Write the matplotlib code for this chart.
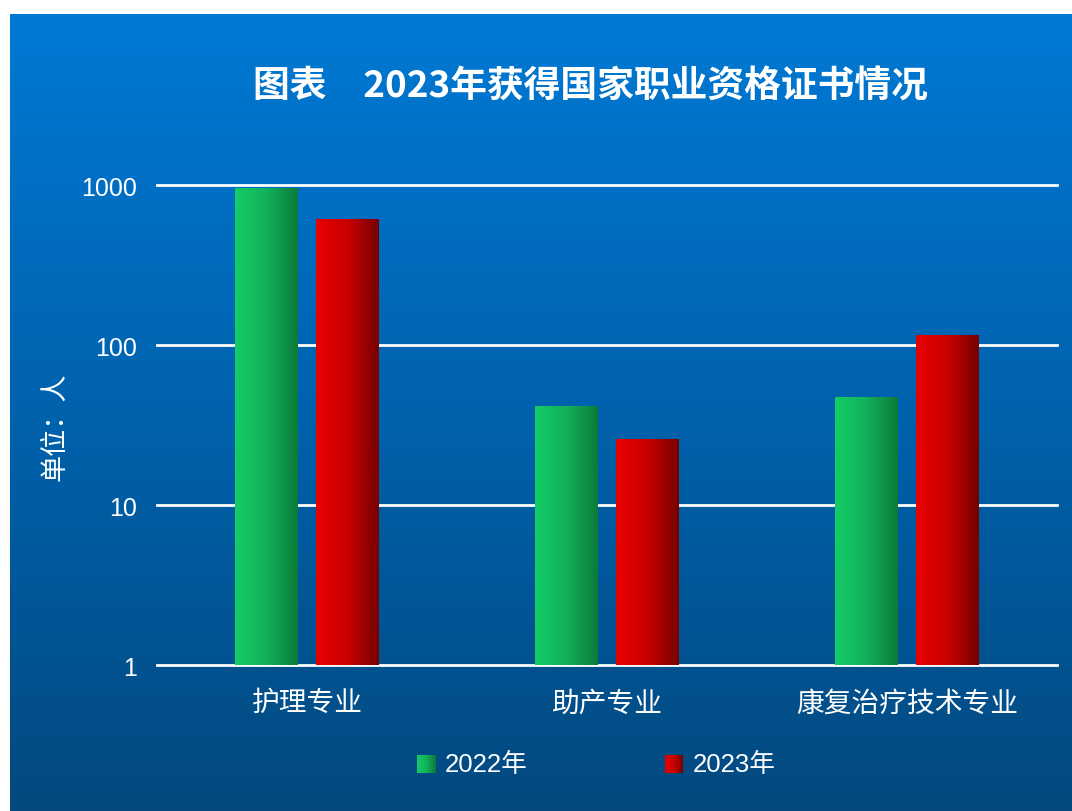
import numpy as np
import matplotlib
matplotlib.use("Agg")
import matplotlib.pyplot as plt
from matplotlib.colors import LinearSegmentedColormap

plt.rcParams['font.family'] = ['Liberation Sans', 'Noto Sans CJK SC', 'DejaVu Sans']

# data
categories = ['护理专业', '助产专业', '康复治疗技术专业']
series = ['2022年', '2023年']
values_2022 = [958, 41, 47]
values_2023 = [613, 25, 115]
yticks = [1, 10, 100, 1000]
title = '图表　2023年获得国家职业资格证书情况'
ylabel = '单位：人'

green_cmap = LinearSegmentedColormap.from_list('g', ['#14cc66', '#12b05a', '#0b7a3a'])
red_cmap = LinearSegmentedColormap.from_list('r', ['#e80000', '#c80000', '#760000'])
bg_cmap = LinearSegmentedColormap.from_list('bg', ['#0079d4', '#0062ad', '#03497f'])

W, H = 1072, 812
fig = plt.figure(figsize=(W / 100, H / 100), dpi=100)
fig.patch.set_facecolor('white')

# blue gradient panel
bg = fig.add_axes([10 / W, 0, 1 - 10 / W, 1 - 15 / H], zorder=0)
bg.imshow(np.linspace(0, 1, 256).reshape(-1, 1), aspect='auto', cmap=bg_cmap,
          extent=(0, 1, 0, 1), origin='upper')
bg.set_axis_off()

ax = fig.add_axes([157 / W, 1 - 666 / H, 900 / W, 480 / H], zorder=1)
ax.patch.set_alpha(0)
ax.set_yscale('log')
ax.set_ylim(1, 1000)
ax.set_xlim(-0.5, 2.5)

grad = np.linspace(0, 1, 128).reshape(1, -1)
x = np.arange(len(categories))
width = 0.21
offset = 0.135
for vals, cm, dx in [(values_2022, green_cmap, -offset), (values_2023, red_cmap, offset)]:
    bars = ax.bar(x + dx, vals, width, bottom=1, color='none', zorder=2)
    for b in bars:
        x0 = b.get_x()
        im = ax.imshow(grad, aspect='auto', cmap=cm, zorder=2,
                       extent=(x0, x0 + b.get_width(), 1, b.get_y() + b.get_height()))
        im.set_clip_path(b)

for t in yticks:
    ax.axhline(t, color='white', lw=2, zorder=1, clip_on=False)
ax.set_xlim(-0.5, 2.5)
ax.set_ylim(1, 1000)

for s in ax.spines.values():
    s.set_visible(False)
ax.set_yticks(yticks)
ax.set_yticklabels([str(t) for t in yticks])
ax.minorticks_off()
ax.set_xticks(x)
ax.set_xticklabels(categories)
ax.tick_params(axis='both', length=0, colors='white', labelsize=18)
ax.tick_params(axis='y', pad=14.5)
ax.tick_params(axis='x', pad=16)
for lab in ax.get_xticklabels():
    lab.set_fontfamily(['Noto Sans CJK SC', 'DejaVu Sans'])
    lab.set_fontsize(20)

fig.text(590 / W, 1 - 87 / H, title, color='white', fontsize=26.5, fontweight='bold',
         ha='center', va='center', family=['Noto Sans CJK SC', 'DejaVu Sans'])
fig.text(55 / W, 1 - 427 / H, ylabel, color='white', fontsize=19.5, rotation=90,
         ha='center', va='center', family=['Noto Sans CJK SC', 'DejaVu Sans'])

# legend
leg_items = [(417, green_cmap, series[0]), (665, red_cmap, series[1])]
for lx, cm, lab in leg_items:
    sq = fig.add_axes([lx / W, 1 - 774 / H, 18 / W, 18 / H], zorder=2)
    sq.imshow(grad, aspect='auto', cmap=cm)
    sq.set_axis_off()
    fig.text((lx + 28) / W, 1 - 765 / H, lab, color='white', fontsize=18.5,
             ha='left', va='center')

fig.savefig('out.png', dpi=100, facecolor=fig.get_facecolor())
